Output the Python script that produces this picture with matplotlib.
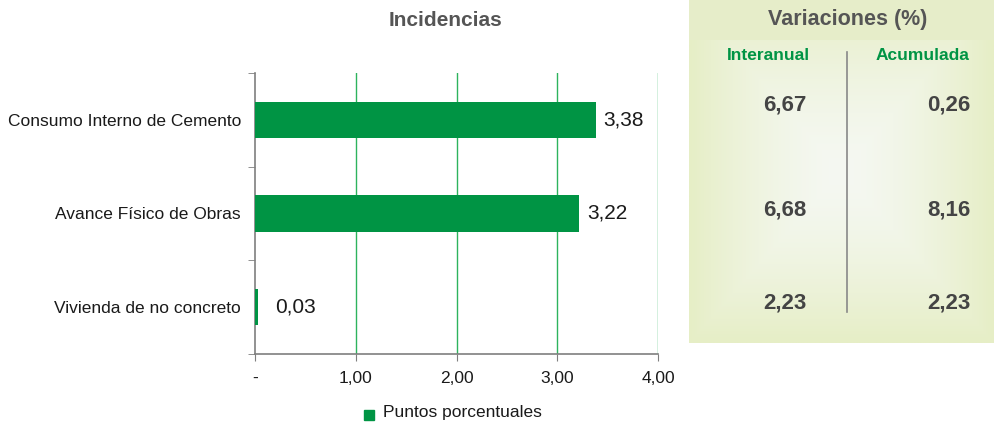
import matplotlib
matplotlib.use("Agg")
import matplotlib.pyplot as plt
import numpy as np

plt.rcParams['font.family'] = ["Liberation Sans", 'DejaVu Sans']

categories = ["Consumo Interno de Cemento", "Avance Físico de Obras", "Vivienda de no concreto"]
incidencias = [3.38, 3.22, 0.03]
interanual = ["6,67", "6,68", "2,23"]
acumulada = ["0,26", "8,16", "2,23"]
xticks = [0, 1, 2, 3, 4]
xticklabels = ["-", "1,00", "2,00", "3,00", "4,00"]

W, H = 994, 425
fig = plt.figure(figsize=(W/100, H/100), dpi=100)

GREEN = "#009444"
GRID = "#2db35d"
AXC = "#7f7f7f"
TXT = "#1a1a1a"

ax = fig.add_axes([255/W, 1-354/H, (658-255)/W, (354-73)/H])
y = np.arange(len(categories))
ax.barh(y, incidencias, height=0.39, color=GREEN, zorder=3)
ax.set_ylim(2.5, -0.5)
ax.set_xlim(0, 4)
ax.set_xticks(xticks)
ax.set_xticklabels(xticklabels, fontsize=12.5, color=TXT)
ax.set_yticks(y)
ax.set_yticklabels(categories, fontsize=12.5, color=TXT)
ax.tick_params(axis='y', length=0, pad=10)
ax.tick_params(axis='x', length=5, color=AXC, pad=7)
ax.set_yticks([-0.5, 0.5, 1.5, 2.5], minor=True)
ax.tick_params(axis='y', which='minor', length=5, color=AXC)
for s in ['top', 'right']:
    ax.spines[s].set_visible(False)
for s in ['left', 'bottom']:
    ax.spines[s].set_color(AXC)
    ax.spines[s].set_linewidth(1.2)
for xv in xticks[1:]:
    ax.axvline(xv, color=GRID, lw=1.0, zorder=1)
for yi, v in zip(y, incidencias):
    ax.text(v + 0.08 if v > 0.5 else v + 0.17, yi, f"{v:.2f}".replace(".", ","),
            va='center', ha='left', fontsize=15, color=TXT)

fig.text(446/W, 1-20/H, "Incidencias", ha='center', va='center', fontsize=15,
         fontweight='bold', color="#555555")

# legend
fig.patches.append(plt.Rectangle((364/W, 1-420/H), 10/W, 10/H, transform=fig.transFigure,
                                 color=GREEN, figure=fig))
fig.text(383/W, 1-413/H, "Puntos porcentuales", ha='left', va='center', fontsize=12.5, color=TXT)

# right panel with gradient background
pax = fig.add_axes([689/W, 1-343/H, (994-689)/W, 343/H])
pax.set_xlim(0, 1); pax.set_ylim(0, 1)
pax.axis('off')
nx, ny = 200, 200
xx = np.linspace(-1, 1, nx)
yy = np.linspace(-1, 1, ny)
X, Y = np.meshgrid(xx, yy)
d = np.clip(np.maximum(np.abs(X) ** 1.5, np.abs(Y) ** 1.5), 0, 1)
c_in = np.array([0xf5, 0xf8, 0xf2]) / 255
c_out = np.array([0xe6, 0xee, 0xc6]) / 255
img = c_in[None, None, :] * (1 - d[..., None]) + c_out[None, None, :] * d[..., None]
pax.imshow(img, extent=[0, 1, 0, 1], aspect='auto', zorder=0)
hb = 40 / 343
pax.add_patch(plt.Rectangle((0, 1 - hb), 1, hb, color="#e6edc9", zorder=1, lw=0))

fig.text(848/W, 1-20/H, "Variaciones (%)", ha='center', va='center', fontsize=15.5,
         fontweight='bold', color="#555555")
fig.text(768/W, 1-56/H, "Interanual", ha='center', va='center', fontsize=12.5,
         fontweight='bold', color=GREEN)
fig.text(922/W, 1-56/H, "Acumulada", ha='center', va='center', fontsize=12.5,
         fontweight='bold', color=GREEN)
fig.add_artist(plt.Line2D([847/W, 847/W], [1-52/H, 1-312/H], color="#888888", lw=1.2))
rows_y = [105, 210, 303]
for ry, a, b in zip(rows_y, interanual, acumulada):
    fig.text(806/W, 1-ry/H, a, ha='right', va='center', fontsize=16, fontweight='bold', color="#444444")
    fig.text(970/W, 1-ry/H, b, ha='right', va='center', fontsize=16, fontweight='bold', color="#444444")

fig.savefig("out.png", dpi=100)
